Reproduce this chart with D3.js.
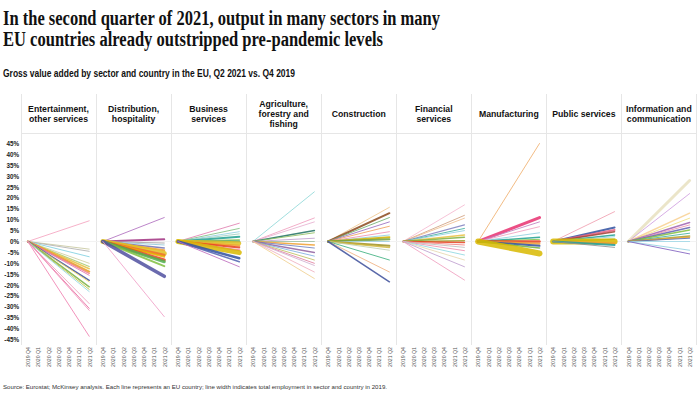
<!DOCTYPE html>
<html>
<head>
<meta charset="utf-8">
<script src="https://cdn.jsdelivr.net/npm/d3@7"></script>
<style>
  body { margin: 0; background: #fff; }
  svg { display: block; font-family: "Liberation Sans", Arial, sans-serif; }
</style>
</head>
<body>
<svg id="chart" width="700" height="394"></svg>
<script>
// sector panels, left to right
const sectors = [
  ['Entertainment,', 'other services'],
  ['Distribution,', 'hospitality'],
  ['Business', 'services'],
  ['Agriculture,', 'forestry and', 'fishing'],
  ['Construction'],
  ['Financial', 'services'],
  ['Manufacturing'],
  ['Public services'],
  ['Information and', 'communication'],
];
const quarters = ['2019 Q4', '2020 Q1', '2020 Q2', '2020 Q3', '2020 Q4', '2021 Q1', '2021 Q2'];
const yTicks = [45, 40, 35, 30, 25, 20, 15, 10, 5, 0, -5, -10, -15, -20, -25, -30, -35, -40, -45];

// change in GVA, Q2 2021 vs. Q4 2019 (%), one value per country line
const q2Change = [
  [9.5, -3.5, -4.5, -7, -10, -11.5, -12.5, -13.8, -14.6, -15.5, -17.8, -18.5, -20.8, -22, -23, -28.5, -30.7, -31.6, -43.5],
  [11, 1, -0.7, -1.6, -3, -4, -5.5, -6.2, -7, -8.5, -9.3, -11.3, -16, -34.5],
  [8.4, 6, 4.5, 3.5, 2.2, 0.7, 0, -0.8, -2, -2.7, -4, -5.1, -7.7, -9.3, -11.6],
  [22.8, 10.8, 9, 5, 4, 1.5, 0, -1.6, -3, -5, -6.7, -8.5, -10, -11, -14, -17],
  [15.7, 13, 11, 9, 7, 4.5, 3, 2, 1, 0, -2, -2.7, -4, -8.5, -14, -18.5],
  [16.8, 12, 10.7, 7.6, 6, 5, 3, 2, 0.4, -0.5, -1.6, -2.7, -4.2, -6.2, -8.5, -11.6, -17.7],
  [45, 11, 9, 6.8, 4, 2, 1, 0, -1, -2, -3, -5.5],
  [13.7, 6.4, 5.3, 4.5, 3, 2.2, 1, 0, -0.8, -1.6, -2.7],
  [28, 22, 13, 10.7, 8.7, 7.6, 6.4, 5.3, 3.8, 2.5, 2, 1.5, 0, -4, -5.7],
];

// line width ~ employment in sector and country, 2019
const lineWidth = [
  [1, 1, 1, 1, 1, 1.2, 1.5, 2, 1.5, 1, 1.5, 1, 1.5, 1, 1, 1, 1, 1, 1],
  [1, 2, 1, 1, 1.5, 2, 5, 2.5, 2, 3, 3, 2, 3.5, 1],
  [1, 1, 1, 1, 2, 1.5, 2, 4, 2, 2, 2, 5, 2.5, 1.5, 1],
  [1, 1, 1, 1.5, 1, 1, 1, 1.5, 1, 1.5, 1, 1, 1, 1, 1, 1],
  [1, 2, 1, 1, 1, 1, 1, 2, 2, 1, 2, 1.5, 1, 1, 1, 1.5],
  [1, 1, 1, 1.2, 1, 1, 1.5, 1.5, 1.5, 1.5, 1, 1, 1, 1, 1, 1, 1],
  [1, 3, 1, 1, 1, 1.5, 1, 2.5, 2, 2, 1.5, 6],
  [1, 2, 2, 1.5, 1.5, 1, 1.5, 6, 2, 2, 1],
  [3, 1, 1.5, 1, 1.5, 1, 1.5, 1.5, 1, 1.5, 1.5, 1, 1, 1, 1],
];

const lineColor = [
  ['#f4a3c0', '#c8c8a0', '#b0b0b0', '#7fd0e0', '#d0d0a0', '#a8c870', '#e8c040', '#e8a020', '#f08080', '#e070b0',
   '#3c4e9a', '#f0d860', '#78b040', '#c0c040', '#90d8e0', '#f0a0c0', '#e86aa0', '#f090b8', '#f080b0'],
  ['#b070c0', '#a03080', '#a0a0a0', '#90c8d8', '#7070b0', '#f0a030', '#e0c020', '#f07030', '#e8b000', '#e84020',
   '#50b050', '#80c040', '#5050a0', '#f0a0c8'],
  ['#e080b0', '#80c080', '#90d0e0', '#a0d0c0', '#20a090', '#80c040', '#40a0a0', '#e0c020', '#f0a030', '#e84020',
   '#f080a0', '#d8b800', '#3050a0', '#5060b0', '#c070c0'],
  ['#90d8d8', '#f0a0c0', '#e8b0d0', '#207060', '#90c060', '#c0a0d0', '#a0c0a0', '#f0a030', '#7080c0', '#9060a0',
   '#80b0e0', '#c0c060', '#e080a0', '#d0b0d0', '#f0b0c0', '#f0d090'],
  ['#f0c890', '#8b4a1c', '#70b070', '#9b6fc0', '#f0a060', '#f090b0', '#90d0e0', '#d0b000', '#70a040', '#a0d0e0',
   '#a09020', '#d0b840', '#c0d0b0', '#40b080', '#f0b080', '#3c4e9a'],
  ['#f4b8d0', '#d0a080', '#f0c090', '#8080c0', '#40b0a0', '#90d0e0', '#e8c040', '#80b040', '#a0a030', '#e84020',
   '#f08080', '#c0c0c0', '#f090b0', '#90d8e0', '#e8d8b0', '#c0a0d0', '#f0a0c0'],
  ['#f0b070', '#e83070', '#c080c0', '#f0a0c0', '#90d0e0', '#20a090', '#80c040', '#e84020', '#f0a030', '#3050a0',
   '#70b040', '#d8b800'],
  ['#f0a0b0', '#3050a0', '#e86080', '#a04030', '#20a090', '#90d0e0', '#80c040', '#d8b800', '#f0a030', '#20a0a0',
   '#909090'],
  ['#e8e0c0', '#d0a0e0', '#f8d090', '#f0e080', '#a060b0', '#f090b0', '#6060b0', '#80c040', '#40b0a0', '#a0a030',
   '#f0a030', '#5070c0', '#a0d8e8', '#90d0e0', '#8060c0'],
];

const svg = d3.select('#chart');

const panelLeft = 21;
const panelWidth = 75.05;
const headerTop = 94;
const headerLine = 133;
const plotBottom = 345;

const y = d3.scaleLinear().domain([-45, 45]).range([339.5, 143.5]);

// title + subtitle
const title = svg.append('g')
  .attr('font-family', '"Liberation Serif", "DejaVu Serif", serif')
  .attr('font-weight', 700)
  .attr('font-size', 20)
  .attr('fill', '#111');
title.append('text').attr('x', 3).attr('y', 25)
  .attr('textLength', 437).attr('lengthAdjust', 'spacingAndGlyphs')
  .text('In the second quarter of 2021, output in many sectors in many');
title.append('text').attr('x', 3).attr('y', 46)
  .attr('textLength', 380).attr('lengthAdjust', 'spacingAndGlyphs')
  .text('EU countries already outstripped pre-pandemic levels');

svg.append('text')
  .attr('x', 3).attr('y', 77)
  .attr('font-size', 10).attr('font-weight', 700).attr('fill', '#111')
  .attr('textLength', 292).attr('lengthAdjust', 'spacingAndGlyphs')
  .text('Gross value added by sector and country in the EU, Q2 2021 vs. Q4 2019');

// grid frame
const frame = svg.append('g').attr('stroke', '#e6e6e6').attr('stroke-width', 1);
d3.range(sectors.length + 1).forEach((i) => {
  const x = Math.round(panelLeft + i * panelWidth) + 0.5;
  frame.append('line').attr('x1', x).attr('x2', x).attr('y1', headerTop).attr('y2', plotBottom);
});
frame.append('line')
  .attr('x1', panelLeft).attr('x2', panelLeft + sectors.length * panelWidth)
  .attr('y1', headerLine + 0.5).attr('y2', headerLine + 0.5);
frame.append('line')
  .attr('stroke', '#f2f2f2')
  .attr('x1', panelLeft).attr('x2', panelLeft + sectors.length * panelWidth)
  .attr('y1', y(0)).attr('y2', y(0));

// y axis labels
const yAxis = d3.axisLeft(y).tickValues(yTicks).tickSize(0).tickPadding(0)
  .tickFormat((d) => `${d}%`);
svg.append('g')
  .attr('transform', 'translate(19,0)')
  .call(yAxis)
  .call((g) => g.select('.domain').remove())
  .call((g) => g.selectAll('text')
    .attr('font-size', 6.3).attr('font-weight', 700).attr('fill', '#222')
    .attr('font-family', '"Liberation Sans", Arial, sans-serif'));

const line = d3.line().x((d) => d.x).y((d) => y(d.v));

sectors.forEach((label, i) => {
  const left = panelLeft + i * panelWidth;
  const cx = left + panelWidth / 2;
  const x = d3.scalePoint().domain(quarters).range([left + 6.8, left + 68.2]);

  // header
  const first = 117 - (label.length - 1) * 5;
  const head = svg.append('text')
    .attr('text-anchor', 'middle')
    .attr('font-size', 8.7).attr('font-weight', 700).attr('fill', '#111');
  label.forEach((t, k) => {
    head.append('tspan').attr('x', cx).attr('y', first + k * 10).text(t);
  });

  // x axis: rotated quarter labels
  const xAxis = d3.axisBottom(x).tickSize(0).tickPadding(0);
  svg.append('g')
    .attr('transform', `translate(0,${plotBottom + 2})`)
    .call(xAxis)
    .call((g) => g.select('.domain').remove())
    .call((g) => g.selectAll('text')
      .attr('font-size', 5.2).attr('fill', '#555')
      .attr('font-family', '"Liberation Sans", Arial, sans-serif')
      .attr('text-anchor', 'end')
      .attr('dy', '0.35em')
      .attr('y', 0)
      .attr('transform', 'rotate(-90)'));

  // country lines, first and last quarter only
  const rows = q2Change[i].map((v, j) => ({
    pts: [{ x: x(quarters[0]), v: 0 }, { x: x(quarters[quarters.length - 1]), v }],
    w: lineWidth[i][j],
    c: lineColor[i][j],
  }));

  svg.append('g')
    .selectAll('path')
    .data(rows)
    .enter()
    .append('path')
    .attr('d', (d) => line(d.pts))
    .attr('fill', 'none')
    .attr('stroke', (d) => d.c)
    .attr('stroke-width', (d) => d.w)
    .attr('stroke-linecap', 'round')
    .attr('stroke-opacity', 0.85);
});

svg.append('text')
  .attr('x', 3).attr('y', 389)
  .attr('font-size', 6).attr('fill', '#333')
  .attr('textLength', 384).attr('lengthAdjust', 'spacingAndGlyphs')
  .text('Source: Eurostat; McKinsey analysis. Each line represents an EU country; line width indicates total employment in sector and country in 2019.');
</script>
</body>
</html>
